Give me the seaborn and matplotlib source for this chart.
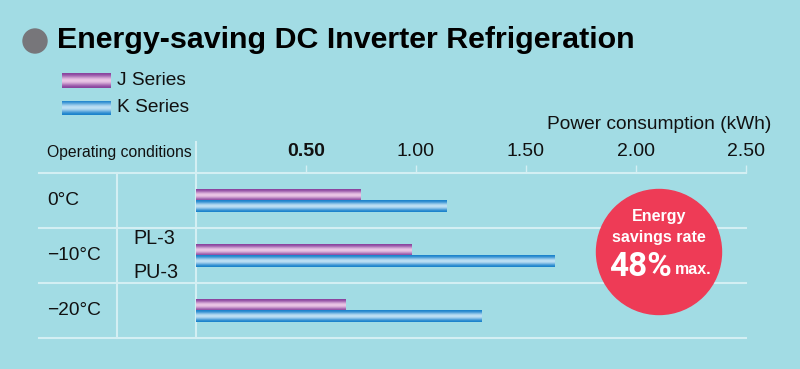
import numpy as np
import pandas as pd
import matplotlib.pyplot as plt
import matplotlib.patches as mpatches
import seaborn as sns

conditions = ["0°C", "\u221210°C", "\u221220°C"]
series = ["J Series", "K Series"]
j_values = [0.75, 0.98, 0.68]
k_values = [1.14, 1.63, 1.30]
xticks = [0.5, 1.0, 1.5, 2.0, 2.5]
xticklabels = ["0.50", "1.00", "1.50", "2.00", "2.50"]

df = pd.DataFrame({
    "cond": conditions * 2,
    "series": [series[0]] * 3 + [series[1]] * 3,
    "kwh": j_values + k_values,
})

bg = "#A2DCE4"
grid = "#D3EFF3"
purple = "#8E4FA4"
blue = "#1E88D2"
palette = {series[0]: purple, series[1]: blue}

plt.rcParams["font.family"] = ["Liberation Sans", "DejaVu Sans"]

W, H = 800, 369
fig = plt.figure(figsize=(W / 100, H / 100), dpi=100, facecolor=bg)

# axes: x 0..2.5 -> px 196..746, rows -> px 173..338
ax = fig.add_axes([196 / W, 1 - 338.3 / H, 550 / W, 165 / H])
ax.set_facecolor(bg)

sns.barplot(data=df, x="kwh", y="cond", hue="series", orient="h",
            palette=palette, width=0.42, dodge=True, legend=False,
            saturation=1, ax=ax, zorder=3)


def gradient(dark, light, n=64):
    d = np.array(plt.matplotlib.colors.to_rgb(dark))
    l = np.array(plt.matplotlib.colors.to_rgb(light))
    t = np.linspace(0, 1, n)
    w = (np.sin(np.pi * t) ** 2)[:, None]
    return (d * (1 - w) + l * w)[:, None, :]


grads = {
    purple: gradient("#8A449E", "#EBC6E6"),
    blue: gradient("#1A82CC", "#BEE0F4"),
}

# paint gradient stripes over the seaborn bars
for p in list(ax.patches):
    fc = plt.matplotlib.colors.to_hex(p.get_facecolor())
    g = grads[purple] if fc == purple.lower() else grads[blue]
    x0, y0 = p.get_x(), p.get_y()
    w, h = p.get_width(), p.get_height()
    ax.imshow(g, extent=[x0, x0 + w, y0 + h, y0], aspect="auto",
              zorder=4, interpolation="bilinear")

ax.set_xlim(0, 2.5)
ax.set_ylim(2.5, -0.5)

for s in ax.spines.values():
    s.set_visible(False)

# table lines
left_x = (39 - 196) / 220
for yy in [-0.5, 0.5, 1.5, 2.5]:
    ax.plot([left_x, 2.5], [yy, yy], color=grid, lw=1.5, clip_on=False, zorder=1)
ax.plot([(117 - 196) / 220] * 2, [-0.5, 2.5], color=grid, lw=1.5, clip_on=False, zorder=1)
ax.plot([0, 0], [-1.07, 2.5], color=grid, lw=1.5, clip_on=False, zorder=1)

ax.xaxis.tick_top()
ax.set_xticks(xticks)
ax.set_xticklabels(xticklabels)
ax.tick_params(axis="x", length=5.8, width=1, color=grid, pad=3.5,
               labelsize=14, labelcolor="#111111")
ax.get_xticklabels()[0].set_fontweight("bold")
ax.set_yticks([])
ax.set_xlabel("")
ax.set_ylabel("")

# row labels
ytr = ax.get_yaxis_transform()
for i, c in enumerate(conditions):
    ax.text((47 - 196) / 550, i, c, transform=ytr, ha="left", va="center",
            fontsize=13.8, color="#111111")
ax.text((133 - 196) / 550, 0.69, "PL-3", transform=ytr, ha="left", va="center",
        fontsize=14.2, color="#111111")
ax.text((133 - 196) / 550, 1.31, "PU-3", transform=ytr, ha="left", va="center",
        fontsize=14.2, color="#111111")

# header texts
fig.text(47 / W, 1 - 153 / H, "Operating conditions", ha="left", va="center",
         fontsize=11.3, color="#111111")
fig.text(771 / W, 1 - 125 / H, "Power consumption (kWh)", ha="right", va="center",
         fontsize=13.8, color="#111111")

# title
fig.patches.append(mpatches.Ellipse((35 / W, 1 - 41 / H), 24 / W, 24 / H,
                                    transform=fig.transFigure, color="#77767A"))
fig.text(57 / W, 1 - 40 / H, "Energy-saving DC Inverter Refrigeration",
         ha="left", va="center", fontsize=21.9, fontweight="bold", color="#000000")

# legend with gradient swatches
for k, (name, col) in enumerate(zip(series, [purple, blue])):
    yc = 80.5 + k * 27.5
    sw = fig.add_axes([62 / W, 1 - (yc + 7.5) / H, 48 / W, 15 / H])
    sw.imshow(grads[col], aspect="auto", extent=[0, 1, 0, 1], interpolation="bilinear")
    sw.axis("off")
    fig.text(117 / W, 1 - yc / H, name, ha="left", va="center",
             fontsize=13.8, color="#111111")

# badge
cx, cy, r = 659, 252, 62.5
fig.patches.append(mpatches.Ellipse((cx / W, 1 - cy / H), 2 * r / W, 2 * r / H,
                                    transform=fig.transFigure, color="#EE3B56"))
fig.text(cx / W, 1 - 217 / H, "Energy", ha="center", va="center",
         fontsize=11.5, fontweight="bold", color="white")
fig.text(cx / W, 1 - 237 / H, "savings rate", ha="center", va="center",
         fontsize=11.5, fontweight="bold", color="white")
fig.text(609 / W, 1 - 267 / H, "48%", ha="left", va="center",
         fontsize=24, fontweight="bold", color="white",
         family=["Roboto", "Liberation Sans", "DejaVu Sans"])
fig.text(711 / W, 1 - 270 / H, "max.", ha="right", va="center",
         fontsize=11.5, fontweight="bold", color="white")

fig.savefig("out.png", dpi=100, facecolor=bg)
